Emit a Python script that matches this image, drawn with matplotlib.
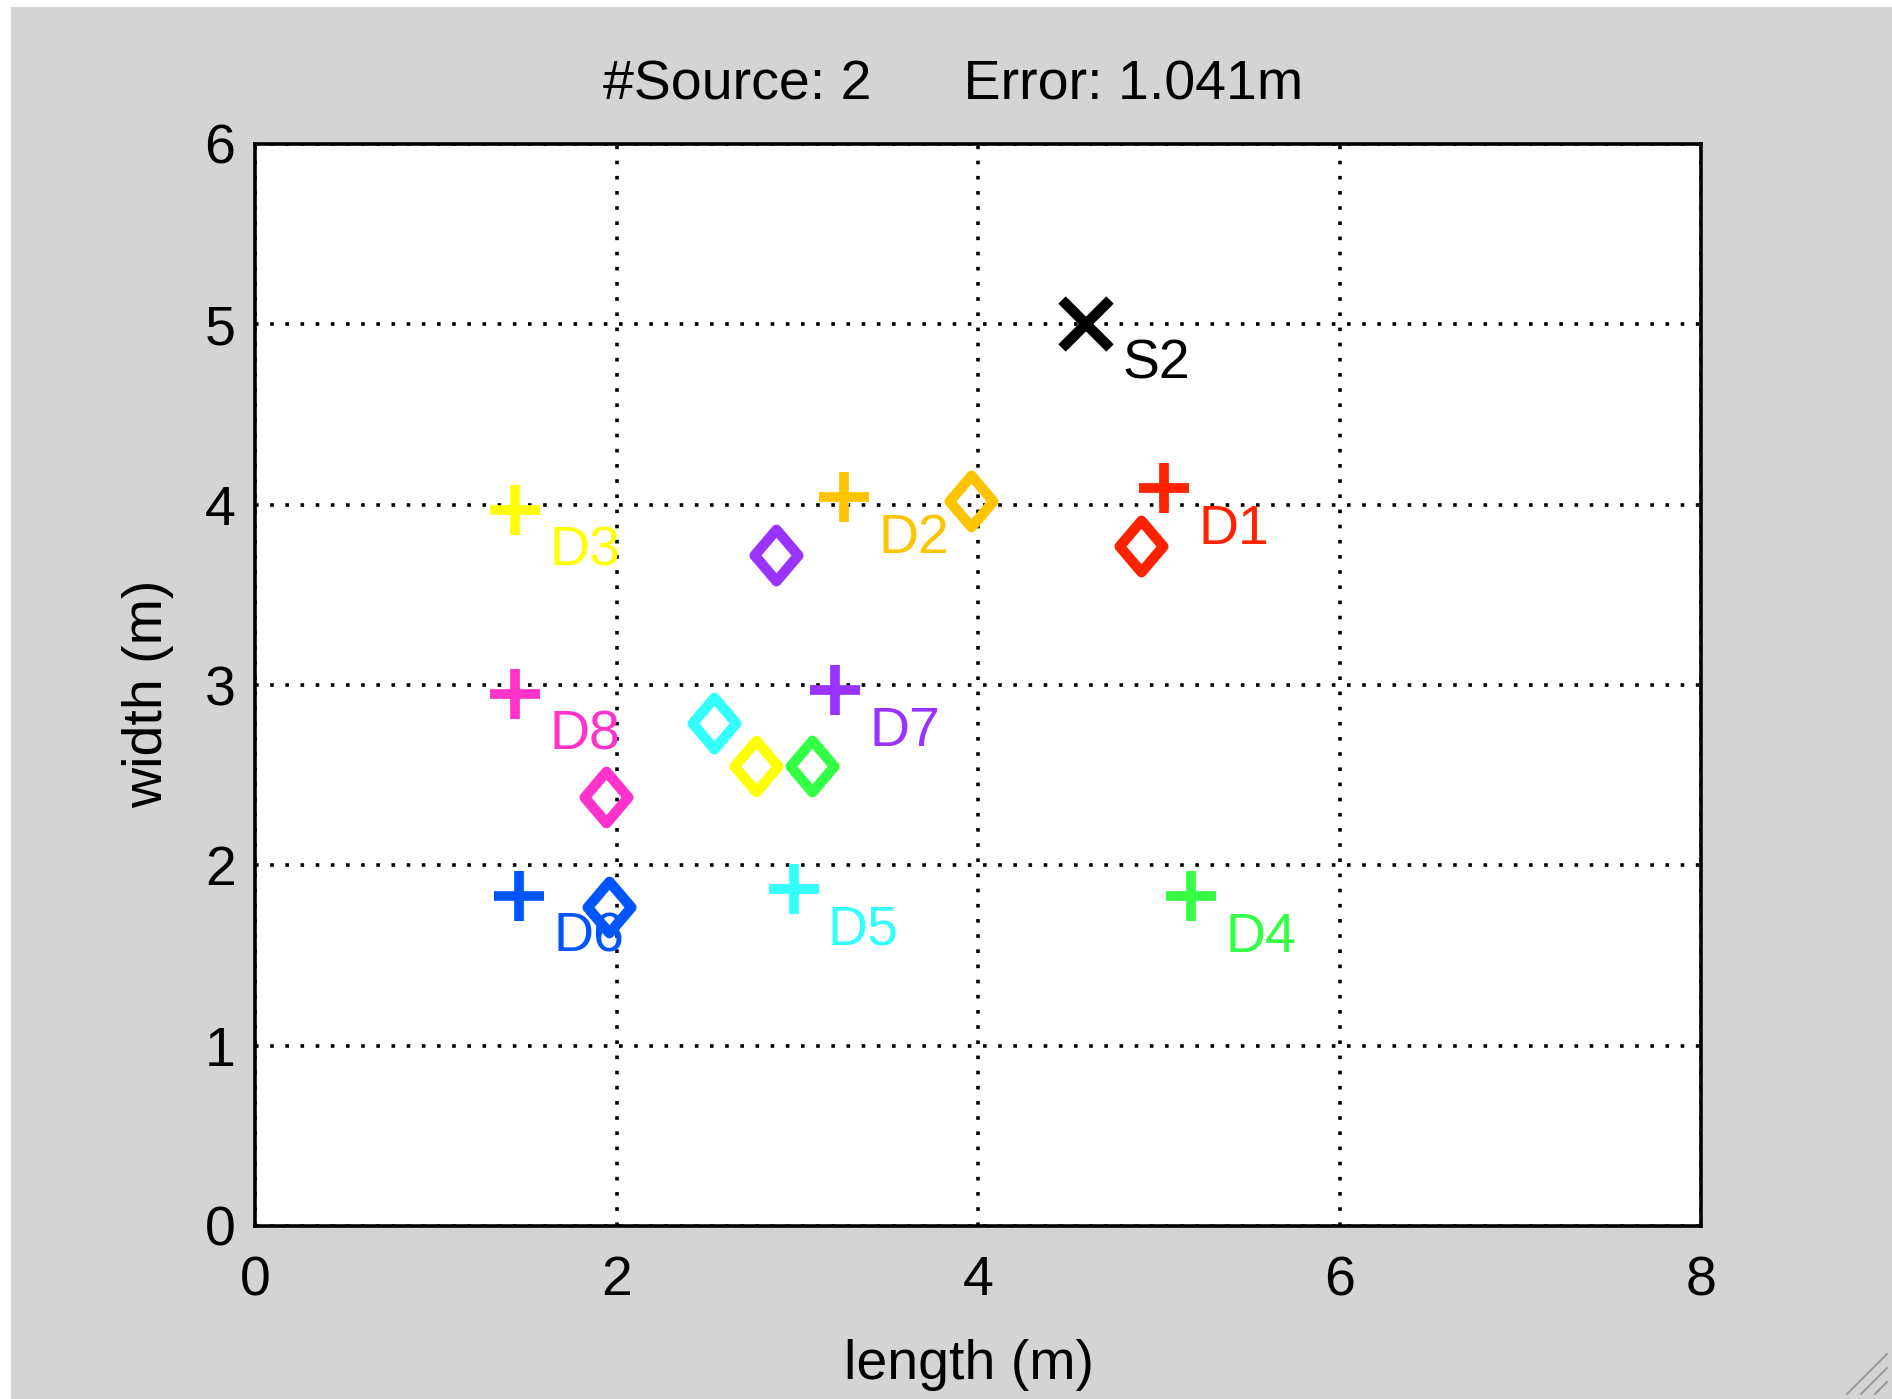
import numpy as np
import matplotlib
matplotlib.use("Agg")
import matplotlib.pyplot as plt
from matplotlib.path import Path
from matplotlib.lines import Line2D
from matplotlib.patches import Rectangle

plt.rcParams['font.family'] = ['Liberation Sans', 'DejaVu Sans']

# Detector positions (+) and estimated positions (diamonds)
names = ['D1', 'D2', 'D3', 'D4', 'D5', 'D6', 'D7', 'D8']
det_x = [5.03, 3.26, 1.44, 5.18, 2.98, 1.46, 3.21, 1.44]
det_y = [4.09, 4.04, 3.97, 1.83, 1.87, 1.83, 2.97, 2.95]
est_x = [4.90, 3.96, 2.77, 3.08, 2.54, 1.96, 2.88, 1.94]
est_y = [3.77, 4.02, 2.55, 2.55, 2.79, 1.77, 3.72, 2.38]
colors = ['#ff2200', '#ffc400', '#ffff00', '#33ff44',
          '#33ffff', '#0055ff', '#9933ff', '#ff33cc']

# Source
src_name = 'S2'
src_x = 4.60
src_y = 5.00

title_txt = '#Source: 2      Error: 1.041m'

W, H = 1892, 1399
fig = plt.figure(figsize=(W / 100, H / 100), dpi=100)
fig.patch.set_facecolor('white')
# grey MATLAB figure background (thin white strip left/top)
fig.add_artist(Rectangle((11 / W, 0), 1, 1 - 7 / H, transform=fig.transFigure,
                         facecolor='#d4d4d4', edgecolor='none', zorder=-10))

ax = fig.add_axes([255 / W, (H - 1226) / H, (1701 - 255) / W, (1226 - 144) / H])
ax.set_facecolor('white')

# diamond marker slightly taller than wide
diamond = Path([(0, -1), (0.85, 0), (0, 1), (-0.85, 0), (0, -1)],
               [Path.MOVETO, Path.LINETO, Path.LINETO, Path.LINETO, Path.CLOSEPOLY])

fs = 40
for i in range(len(names)):
    ax.plot(det_x[i], det_y[i], marker='+', color=colors[i], markersize=36,
            markeredgewidth=7, linestyle='none', zorder=3)
    ax.text(det_x[i] + 0.19, det_y[i] - 0.31, names[i], color=colors[i],
            fontsize=fs, ha='left', va='baseline', zorder=3)
for i in range(len(names)):
    ax.plot(est_x[i], est_y[i], marker=diamond, color=colors[i], markersize=37,
            markerfacecolor='none', markeredgewidth=7.5, linestyle='none', zorder=4)

ax.plot(src_x, src_y, marker='x', color='black', markersize=34,
        markeredgewidth=7.5, linestyle='none', zorder=5)
ax.text(src_x + 0.2, src_y - 0.3, src_name, color='black', fontsize=fs,
        ha='left', va='baseline', zorder=5)

ax.set_xlim(0, 8)
ax.set_ylim(0, 6)
ax.set_xticks(np.arange(0, 9, 2))
ax.set_yticks(np.arange(0, 7, 1))
ax.grid(True, color='black', linestyle=(0, (1, 3.2)), linewidth=2.6)
ax.set_axisbelow(True)
ax.tick_params(length=0, labelsize=fs)
ax.tick_params(axis='x', pad=21)
ax.tick_params(axis='y', pad=14)
for s in ax.spines.values():
    s.set_linewidth(2.6)

fig.text(953 / W, 1 - 99 / H, title_txt, fontsize=fs, ha='center', va='baseline')
fig.text(969 / W, 1 - 1379 / H, 'length (m)', fontsize=fs, ha='center', va='baseline')
fig.text(148 / W, 1 - 694 / H, 'width (m)', fontsize=fs, ha='center', va='center',
         rotation=90)

# resize grip in the corner
for k in range(3):
    off = 14 * k
    fig.add_artist(Line2D([(W - 45 + off) / W, (W - 5) / W],
                          [5 / H, (45 - off) / H], transform=fig.transFigure,
                          color='#9a9a9a', linewidth=1.5))

fig.savefig('out.png', dpi=100, facecolor=fig.get_facecolor())
